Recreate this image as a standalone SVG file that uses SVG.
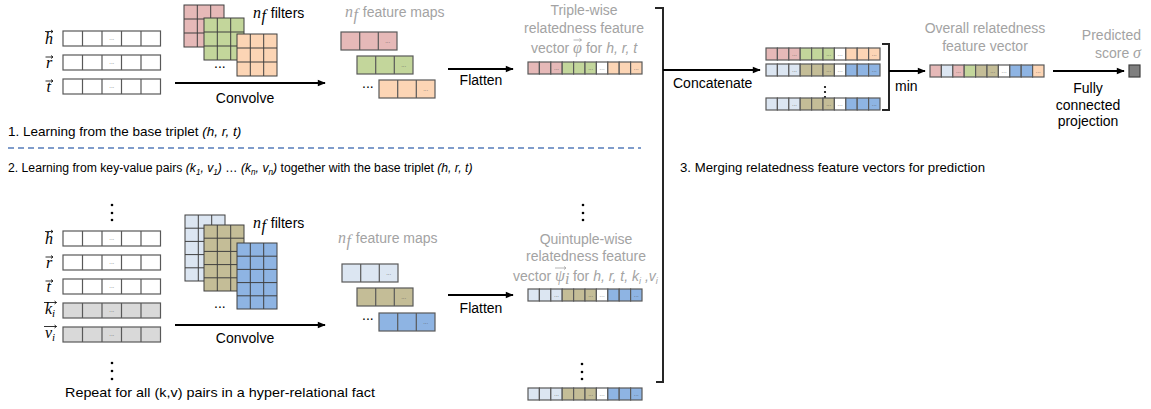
<svg xmlns="http://www.w3.org/2000/svg" width="1151" height="409" viewBox="0 0 1151 409">
<style>
text{font-family:"Liberation Sans",Arial,sans-serif;font-size:14px;fill:#000}
.g{fill:#a3a3a3}
.m{font-family:"Liberation Serif","DejaVu Serif",serif;font-style:italic;font-size:16px}
.it{font-style:italic}
.sec{font-size:13.5px}
.c{stroke:#595959;stroke-width:1.2}
.fg{stroke:#3f3f3f;stroke-width:1}
.dd{font-size:6px;fill:#555;text-anchor:middle}
.pk{fill:#e6b9b8}.gn{fill:#c3d69b}.or{fill:#fcd5b5}.lb{fill:#dce6f2}.ol{fill:#c4bd97}.bl{fill:#8eb4e3}.wh{fill:#fff}
.conn{stroke:#000;stroke-width:2;fill:none}
.brk{stroke:#262626;stroke-width:2;fill:none}
.ov{stroke:#000;stroke-width:0.8;fill:none}
.ovg{stroke:#a3a3a3;stroke-width:0.8;fill:none}
.dot{fill:#000}
</style>
<defs>
<marker id="ah" viewBox="0 0 10 10" refX="9" refY="5" markerWidth="9" markerHeight="8" markerUnits="userSpaceOnUse" orient="auto">
<path d="M0,1 L10,5 L0,9 z" fill="#000"/>
</marker>
<!-- five-cell embedding row -->
<g id="v5"><rect class="c" width="97.5" height="15"/><path class="c" d="M19.5 0v15M39 0v15M58.5 0v15M78 0v15"/><text class="dd" x="48.75" y="9">...</text></g>
<!-- three-cell feature map -->
<g id="fm"><rect class="c" width="56" height="18"/><path class="c" d="M18.7 0v18M37.3 0v18"/><text class="dd" x="46.7" y="11">...</text></g>
<!-- 3x3 and 3x5 filters -->
<g id="f33"><rect class="fg" width="40" height="42"/><path class="fg" d="M13.3 0v42M26.7 0v42M0 14h40M0 28h40"/></g>
<g id="f35"><rect class="fg" width="40" height="66"/><path class="fg" d="M13.3 0v66M26.7 0v66M0 13.2h40M0 26.4h40M0 39.6h40M0 52.8h40"/></g>
<!-- ten-cell flattened vectors -->
<g id="vt">
<rect class="c pk" x="0" width="11.4" height="12"/><rect class="c pk" x="11.4" width="11.4" height="12"/><rect class="c pk" x="22.8" width="11.4" height="12"/>
<rect class="c gn" x="34.2" width="11.4" height="12"/><rect class="c gn" x="45.6" width="11.4" height="12"/><rect class="c gn" x="57" width="11.4" height="12"/>
<rect class="c wh" x="68.4" width="11.4" height="12"/>
<rect class="c or" x="79.8" width="11.4" height="12"/><rect class="c or" x="91.2" width="11.4" height="12"/><rect class="c or" x="102.6" width="11.4" height="12"/>
<text class="dd" x="28.5" y="8">...</text><text class="dd" x="62.7" y="8">...</text><text class="dd" x="74.1" y="8">...</text><text class="dd" x="108.3" y="8">...</text>
</g>
<g id="vq">
<rect class="c lb" x="0" width="11.4" height="12"/><rect class="c lb" x="11.4" width="11.4" height="12"/><rect class="c lb" x="22.8" width="11.4" height="12"/>
<rect class="c ol" x="34.2" width="11.4" height="12"/><rect class="c ol" x="45.6" width="11.4" height="12"/><rect class="c ol" x="57" width="11.4" height="12"/>
<rect class="c wh" x="68.4" width="11.4" height="12"/>
<rect class="c bl" x="79.8" width="11.4" height="12"/><rect class="c bl" x="91.2" width="11.4" height="12"/><rect class="c bl" x="102.6" width="11.4" height="12"/>
<text class="dd" x="28.5" y="8">...</text><text class="dd" x="62.7" y="8">...</text><text class="dd" x="74.1" y="8">...</text><text class="dd" x="108.3" y="8">...</text>
</g>
<g id="vo">
<rect class="c pk" x="0" width="11.4" height="12"/><rect class="c lb" x="11.4" width="11.4" height="12"/><rect class="c pk" x="22.8" width="11.4" height="12"/>
<rect class="c gn" x="34.2" width="11.4" height="12"/><rect class="c ol" x="45.6" width="11.4" height="12"/><rect class="c ol" x="57" width="11.4" height="12"/>
<rect class="c wh" x="68.4" width="11.4" height="12"/>
<rect class="c bl" x="79.8" width="11.4" height="12"/><rect class="c bl" x="91.2" width="11.4" height="12"/><rect class="c or" x="102.6" width="11.4" height="12"/>
<text class="dd" x="28.5" y="8">...</text><text class="dd" x="62.7" y="8">...</text><text class="dd" x="74.1" y="8">...</text><text class="dd" x="108.3" y="8">...</text>
</g>
</defs>
<rect width="1151" height="409" fill="#fff"/>

<!-- section 1: base triplet -->
<g id="triple-inputs">
<use href="#v5" x="63" y="31" fill="#fff"/>
<use href="#v5" x="63" y="55" fill="#fff"/>
<use href="#v5" x="63" y="79" fill="#fff"/>
<text class="m" x="45" y="44">h</text><path class="ov" d="M45 31.5h8M51 30l2 1.5-2 1.5"/>
<text class="m" x="46" y="68">r</text><path class="ov" d="M45.5 57h7.5M51 55.5l2 1.5-2 1.5"/>
<text class="m" x="46.5" y="92">t</text><path class="ov" d="M45.5 81h7.5M51 79.5l2 1.5-2 1.5"/>
</g>
<g id="triple-filters">
<use href="#f33" x="184" y="5" fill="#e6b9b8"/>
<use href="#f33" x="204" y="18" fill="#c3d69b"/>
<use href="#f33" x="237" y="34" fill="#fcd5b5"/>
<text x="214" y="68" font-size="12">...</text>
<text x="253" y="18"><tspan class="m">n</tspan><tspan class="m" font-size="11" dx="0.5" dy="3">f</tspan><tspan dx="1" dy="-3"> filters</tspan></text>
</g>
<g id="triple-maps">
<text class="g" x="345" y="17" font-size="13.2"><tspan class="m g">n</tspan><tspan class="m g" font-size="11" dx="0.5" dy="3">f</tspan><tspan dx="1" dy="-3"> feature maps</tspan></text>
<use href="#fm" x="341" y="32" fill="#e6b9b8"/>
<use href="#fm" x="357" y="56" fill="#c3d69b"/>
<use href="#fm" x="379" y="80" fill="#fcd5b5"/>
<text x="362" y="88" font-size="12">...</text>
</g>
<g id="triple-vector">
<text class="g" x="584" y="15" text-anchor="middle">Triple-wise</text>
<text class="g" x="584" y="33" text-anchor="middle">relatedness feature</text>
<text class="g" x="531" y="53">vector <tspan class="m g" x="573" font-size="15">φ</tspan><tspan x="582"> for </tspan><tspan class="it">h, r, t</tspan></text>
<path class="ovg" d="M573.5 40h8M579.5 38.5l2 1.5-2 1.5"/>
<use href="#vt" x="528" y="62"/>
</g>
<text class="sec" x="8" y="136" font-size="13.2">1. Learning from the base triplet <tspan class="it">(h, r, t)</tspan></text>
<path d="M8 148H641" stroke="#7f9ccb" stroke-width="2" stroke-dasharray="6 4" fill="none"/>
<text class="sec" transform="translate(8 172) scale(0.905 1)">2. Learning from key-value pairs <tspan class="it">(k</tspan><tspan class="it" font-size="9" dy="3">1</tspan><tspan class="it" dy="-3">, v</tspan><tspan class="it" font-size="9" dy="3">1</tspan><tspan class="it" dy="-3">)</tspan> … <tspan class="it">(k</tspan><tspan class="it" font-size="9" dy="3">n</tspan><tspan class="it" dy="-3">, v</tspan><tspan class="it" font-size="9" dy="3">n</tspan><tspan class="it" dy="-3">)</tspan> together with the base triplet <tspan class="it">(h, r, t)</tspan></text>

<!-- section 2: key-value pairs with base triplet -->
<g id="quint-inputs">
<circle class="dot" cx="112" cy="205" r="1.3"/><circle class="dot" cx="112" cy="213" r="1.3"/><circle class="dot" cx="112" cy="220" r="1.3"/>
<use href="#v5" x="63" y="231" fill="#fff"/>
<use href="#v5" x="63" y="255" fill="#fff"/>
<use href="#v5" x="63" y="279" fill="#fff"/>
<use href="#v5" x="63" y="303" fill="#d9d9d9"/>
<use href="#v5" x="63" y="327" fill="#d9d9d9"/>
<text class="m" x="45" y="244">h</text><path class="ov" d="M45 231.5h8M51 230l2 1.5-2 1.5"/>
<text class="m" x="46" y="268">r</text><path class="ov" d="M45.5 257h7.5M51 255.5l2 1.5-2 1.5"/>
<text class="m" x="46.5" y="292">t</text><path class="ov" d="M45.5 281h7.5M51 279.5l2 1.5-2 1.5"/>
<text class="m" x="45" y="314">k<tspan font-size="11" dy="3">i</tspan></text><path class="ov" d="M44 302.5h12.5M54.5 301l2 1.5-2 1.5"/>
<text class="m" x="45" y="338">v<tspan font-size="11" dy="3">i</tspan></text><path class="ov" d="M44 326.5h12.5M54.5 325l2 1.5-2 1.5"/>
<circle class="dot" cx="112" cy="363" r="1.3"/><circle class="dot" cx="112" cy="371" r="1.3"/><circle class="dot" cx="112" cy="379" r="1.3"/>
<text class="sec" x="65" y="397" textLength="310" lengthAdjust="spacingAndGlyphs">Repeat for all (k,v) pairs in a hyper-relational fact</text>
</g>
<g id="quint-filters">
<use href="#f35" x="185" y="215" fill="#dce6f2"/>
<use href="#f35" x="204" y="225" fill="#c4bd97"/>
<use href="#f35" x="237" y="243" fill="#8eb4e3"/>
<text x="214" y="308" font-size="12">...</text>
<text x="253" y="228"><tspan class="m">n</tspan><tspan class="m" font-size="11" dx="0.5" dy="3">f</tspan><tspan dx="1" dy="-3"> filters</tspan></text>
</g>
<g id="quint-maps">
<text class="g" x="338" y="243"><tspan class="m g">n</tspan><tspan class="m g" font-size="11" dx="0.5" dy="3">f</tspan><tspan dx="1" dy="-3"> feature maps</tspan></text>
<use href="#fm" x="342" y="264" fill="#dce6f2"/>
<use href="#fm" x="357" y="288" fill="#c4bd97"/>
<use href="#fm" x="379" y="313" fill="#8eb4e3"/>
<text x="362" y="320" font-size="12">...</text>
</g>
<g id="quint-vector">
<circle class="dot" cx="583" cy="205" r="1.3"/><circle class="dot" cx="583" cy="213" r="1.3"/><circle class="dot" cx="583" cy="220" r="1.3"/>
<text class="g" x="586" y="244" text-anchor="middle">Quintuple-wise</text>
<text class="g" x="586" y="261" text-anchor="middle">relatedness feature</text>
<text class="g" x="513" y="281">vector <tspan class="m g" x="555" font-size="15">ψ</tspan><tspan class="m g" font-size="10" dy="3">i</tspan><tspan dy="-3" x="569"> for </tspan><tspan class="it">h, r, t, k</tspan><tspan class="it" font-size="9" dy="3">i</tspan><tspan class="it" dy="-3"> ,v</tspan><tspan class="it" font-size="9" dy="3">i</tspan></text>
<path class="ovg" d="M555 268h11M564 266.5l2 1.5-2 1.5"/>
<use href="#vq" x="528" y="289"/>
<circle class="dot" cx="582" cy="364" r="1.3"/><circle class="dot" cx="582" cy="372" r="1.3"/><circle class="dot" cx="582" cy="379" r="1.3"/>
<use href="#vq" x="528" y="388"/>
</g>

<!-- section 3: merging -->
<text class="sec" x="680" y="172" textLength="305" lengthAdjust="spacingAndGlyphs">3. Merging relatedness feature vectors for prediction</text>
<g id="concat-vectors">
<use href="#vt" x="766" y="48"/>
<use href="#vq" x="766" y="64"/>
<circle class="dot" cx="825" cy="87" r="1.1"/><circle class="dot" cx="825" cy="92" r="1.1"/><circle class="dot" cx="825" cy="97" r="1.1"/>
<use href="#vq" x="766" y="98"/>
</g>
<g id="overall-vector">
<text class="g" x="985" y="33" text-anchor="middle">Overall relatedness</text>
<text class="g" x="985" y="51" text-anchor="middle">feature vector</text>
<use href="#vo" x="930" y="65"/>
</g>
<g id="score">
<text class="g" x="1141" y="40" text-anchor="end">Predicted</text>
<text class="g" x="1141" y="58" text-anchor="end">score <tspan class="m g" font-size="15">σ</tspan></text>
<rect x="1129" y="65" width="11" height="12" fill="#7f7f7f" stroke="#404040" stroke-width="1.2"/>
</g>

<g id="connectors">
<path class="conn" d="M175 83H325" marker-end="url(#ah)"/>
<text x="245" y="103" text-anchor="middle">Convolve</text>
<path class="conn" d="M448 69H513" marker-end="url(#ah)"/>
<text x="481" y="85" text-anchor="middle">Flatten</text>
<path class="conn" d="M175 325H325" marker-end="url(#ah)"/>
<text x="245" y="343" text-anchor="middle">Convolve</text>
<path class="conn" d="M448 295H513" marker-end="url(#ah)"/>
<text x="481" y="313" text-anchor="middle">Flatten</text>
<path class="brk" d="M655 8H663V382H656"/>
<path class="conn" d="M663 70H760" marker-end="url(#ah)"/>
<text x="673" y="88">Concatenate</text>
<path class="brk" d="M882 44H889V110H882"/>
<path class="conn" d="M889 71H925" marker-end="url(#ah)"/>
<text x="895" y="91">min</text>
<path class="conn" d="M1053 71H1124" marker-end="url(#ah)"/>
<text x="1088" y="93" text-anchor="middle">Fully</text>
<text x="1088" y="110" text-anchor="middle">connected</text>
<text x="1088" y="126" text-anchor="middle">projection</text>
</g>
</svg>
